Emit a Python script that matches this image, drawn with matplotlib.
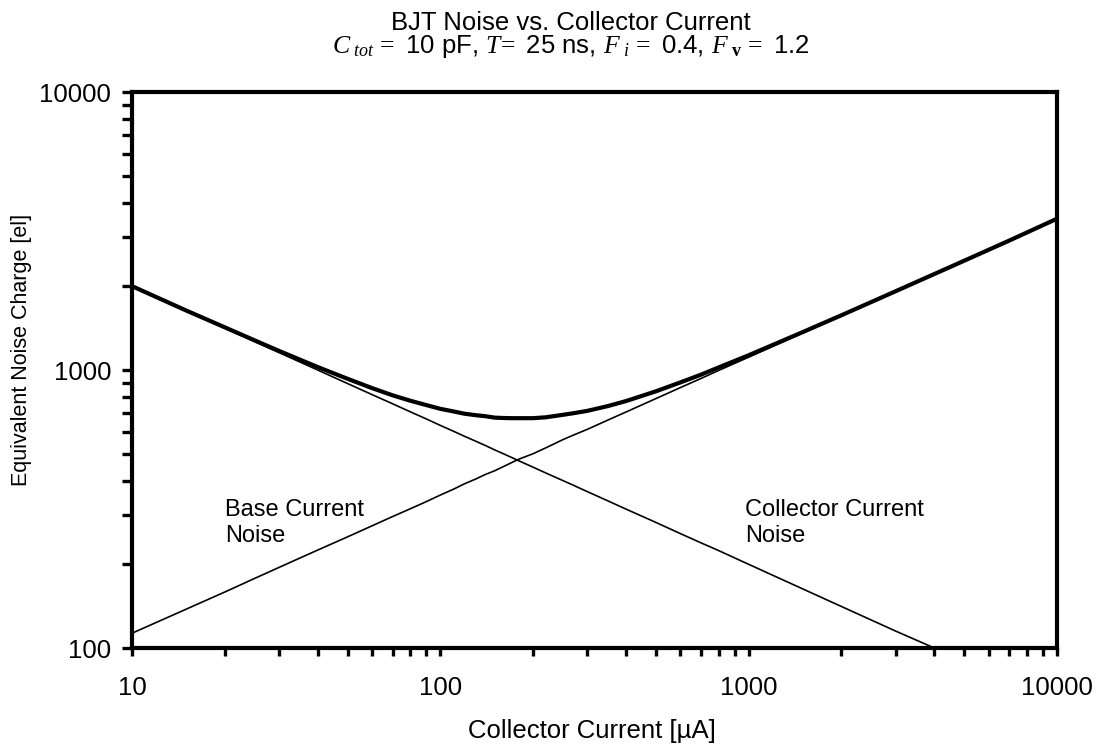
import matplotlib
matplotlib.use("Agg")
import matplotlib.pyplot as plt
from matplotlib.ticker import FixedLocator, FixedFormatter, LogLocator, NullFormatter

plt.rcParams["font.family"] = ["Liberation Sans", "DejaVu Sans"]
plt.rcParams["mathtext.fontset"] = "custom"
plt.rcParams["mathtext.rm"] = "Liberation Serif"
plt.rcParams["mathtext.it"] = "Liberation Serif:italic"
plt.rcParams["mathtext.bf"] = "Liberation Serif:bold"

# Collector current [uA]
current = [10, 15, 20, 25, 30, 40, 50, 60, 70, 80, 90, 100, 110, 120, 130, 140,
           150, 160, 170, 180, 200, 220, 250, 270, 300, 350, 400, 500, 600, 700,
           800, 1000, 1500, 2000, 3000, 4000, 5000, 7000, 10000]
# Noise contributions [el]
base_noise = [2000, 1633, 1414, 1265, 1155, 1000, 894, 816, 756, 707, 667, 632,
              603, 577, 555, 535, 516, 500, 485, 471, 447, 426, 400, 385, 365,
              338, 316, 283, 258, 239, 224, 200, 163, 141, 115, 100, 89, 76, 63]
collector_noise = [113, 138, 159, 178, 195, 225, 251, 275, 297, 317, 336, 355,
                   372, 390, 405, 421, 434, 449, 464, 478, 500, 525, 562, 583,
                   612, 661, 706, 789, 864, 932, 997, 1112, 1360, 1568, 1918,
                   2212, 2470, 2920, 3500]
total_noise = [2003, 1636, 1424, 1278, 1171, 1025, 930, 861, 811, 775, 748, 725,
               710, 696, 688, 682, 674, 672, 671, 671, 671, 676, 690, 699, 713,
               742, 773, 838, 902, 962, 1022, 1130, 1370, 1574, 1921, 2214,
               2472, 2921, 3501]

x_ticks = [10, 100, 1000, 10000]
x_tick_labels = ["10", "100", "1000", "10000"]
y_ticks = [100, 1000, 10000]
y_tick_labels = ["100", "1000", "10000"]

W, H = 1102, 746
fig = plt.figure(figsize=(W / 100, H / 100), dpi=100)
ax = fig.add_axes([132 / W, 1 - 648 / H, 925 / W, 556 / H])

ax.plot(current, base_noise, color="black", lw=1.2, solid_joinstyle="round")
ax.plot(current, collector_noise, color="black", lw=1.2, solid_joinstyle="round")
ax.plot(current, total_noise, color="black", lw=3.0, solid_joinstyle="round")

ax.set_xscale("log")
ax.set_yscale("log")
ax.set_xlim(10, 10000)
ax.set_ylim(100, 10000)

ax.xaxis.set_major_locator(FixedLocator(x_ticks))
ax.xaxis.set_major_formatter(FixedFormatter(x_tick_labels))
ax.yaxis.set_major_locator(FixedLocator(y_ticks))
ax.yaxis.set_major_formatter(FixedFormatter(y_tick_labels))
ax.xaxis.set_minor_locator(LogLocator(base=10, subs=range(2, 10)))
ax.yaxis.set_minor_locator(LogLocator(base=10, subs=range(2, 10)))
ax.xaxis.set_minor_formatter(NullFormatter())
ax.yaxis.set_minor_formatter(NullFormatter())

for s in ax.spines.values():
    s.set_linewidth(3.0)
    s.set_color("black")

ax.tick_params(axis="x", which="both", direction="out", width=2.4,
               labelsize=18.5, pad=14)
ax.tick_params(axis="x", which="major", length=6)
ax.tick_params(axis="x", which="minor", length=5.5)
ax.tick_params(axis="y", which="both", direction="out", width=2.4,
               length=7, labelsize=18.5, pad=8)

fig.text(592 / W, 1 - 731 / H, "Collector Current [µA]", fontsize=18.5,
         ha="center", va="center")
fig.text(22 / W, 1 - 350 / H, "Equivalent Noise Charge [el]", fontsize=15.5,
         ha="center", va="center", rotation=90)

title = ("BJT Noise vs. Collector Current\n"
         r"$C_{\ tot}\,=$ 10 pF, $T\!=$ 25 ns, $F_{\ i}\,=$ 0.4, "
         r"$F_{\ \mathbf{v}}\,=$ 1.2")
fig.text(571 / W, 1 - 35 / H, title, fontsize=18.5, ha="center", va="center",
         linespacing=0.9, multialignment="center")

ax.text(225 / W, 1 - 523 / H, "Base Current\nNoise", fontsize=17,
        ha="left", va="center", transform=fig.transFigure, linespacing=1.2)
ax.text(745 / W, 1 - 523 / H, "Collector Current\nNoise", fontsize=17,
        ha="left", va="center", transform=fig.transFigure, linespacing=1.2)

fig.savefig("out.png", dpi=100)
